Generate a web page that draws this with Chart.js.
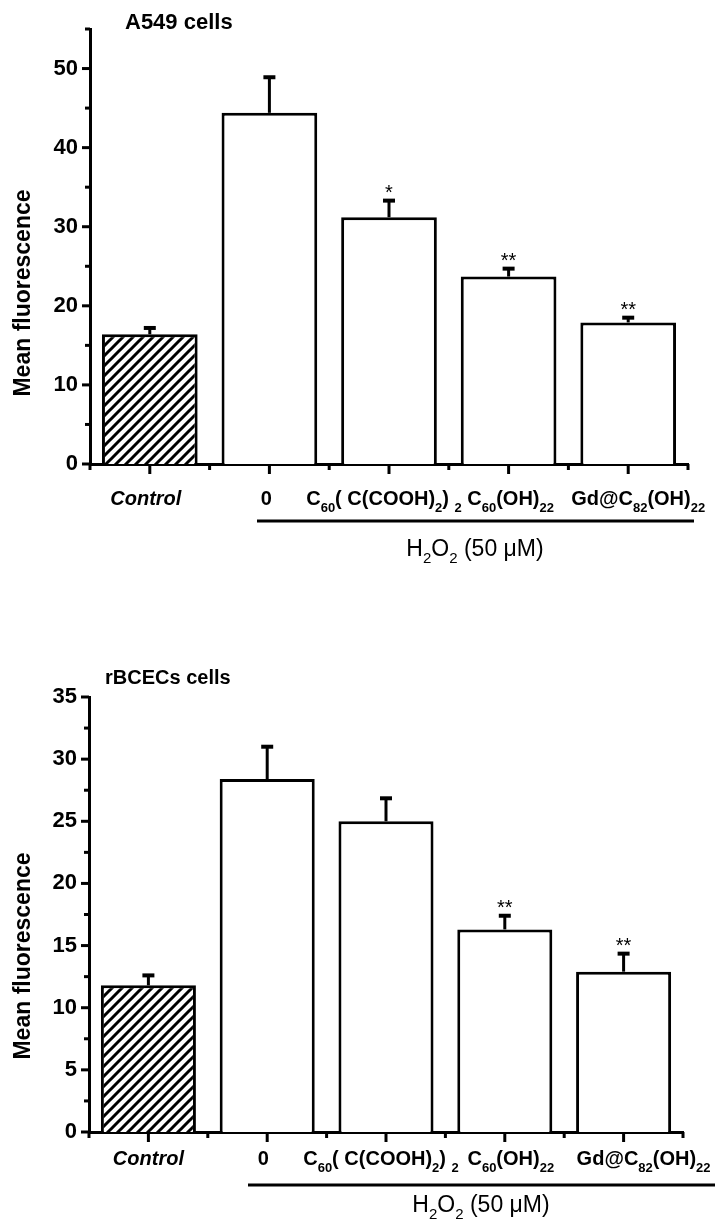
<!DOCTYPE html>
<html>
<head>
<meta charset="utf-8">
<script src="https://cdn.jsdelivr.net/npm/chart.js@4/dist/chart.umd.min.js"></script>
<style>
  body { margin: 0; background: #fff; }
  #wrap { position: relative; width: 724px; height: 1225px; }
  canvas { position: absolute; left: 0; }
</style>
</head>
<body>
<div id="wrap">
  <canvas id="topChart" width="724" height="600" style="top:0"></canvas>
  <canvas id="bottomChart" width="724" height="625" style="top:600px"></canvas>
</div>
<script>
'use strict';

/* Data */
const categories = ['Control', '0', 'C_{60}( C(COOH)_{2}) _{2}', 'C_{60}(OH)_{22}', 'Gd@C_{82}(OH)_{22}'];
const groupLabel = 'H_{2}O_{2} (50 \u03bcM)';

const a549Values = [16.4, 44.4, 31.2, 23.7, 17.9];
const a549Errors = [0.8, 4.5, 2.1, 1.0, 0.6];
const a549Stars = ['', '', '*', '**', '**'];
const a549Ticks = [0, 5, 10, 15, 20, 25, 30, 35, 40, 45, 50, 55];
const a549Labels = [0, 10, 20, 30, 40, 50];

const rbcecValues = [11.8, 28.4, 25.0, 16.3, 12.9];
const rbcecErrors = [0.8, 2.6, 1.85, 1.1, 1.45];
const rbcecStars = ['', '', '', '**', '**'];
const rbcecTicks = [0, 2.5, 5, 7.5, 10, 12.5, 15, 17.5, 20, 22.5, 25, 27.5, 30, 32.5, 35];
const rbcecLabels = [0, 5, 10, 15, 20, 25, 30, 35];

const FONT = "'Liberation Sans', Arial, sans-serif";

/* Hatch fill for the control bar */
function hatchPattern() {
  const c = document.createElement('canvas');
  c.width = 10;
  c.height = 10;
  const g = c.getContext('2d');
  g.fillStyle = '#fff';
  g.fillRect(0, 0, 10, 10);
  g.strokeStyle = '#000';
  g.lineWidth = 3;
  g.beginPath();
  g.moveTo(-2, 12); g.lineTo(12, -2);
  g.moveTo(-7, 7); g.lineTo(7, -7);
  g.moveTo(3, 17); g.lineTo(17, 3);
  g.stroke();
  return g.createPattern(c, 'repeat');
}

/* text with _{sub} parts */
function drawRich(ctx, text, cx, baseline, size, subSize, style) {
  const parts = text.split(/_\{([^}]*)\}/);
  const fonts = parts.map((p, k) => style + ' ' + (k % 2 ? subSize : size) + 'px ' + FONT);
  let w = 0;
  parts.forEach((p, k) => { ctx.font = fonts[k]; w += ctx.measureText(p).width; });
  let x = cx - w / 2;
  ctx.textAlign = 'left';
  ctx.textBaseline = 'alphabetic';
  parts.forEach((p, k) => {
    ctx.font = fonts[k];
    ctx.fillText(p, x, baseline + (k % 2 ? 7 : 0));
    x += ctx.measureText(p).width;
  });
}

function decorPlugin(cfg) {
  return {
    id: 'decor',
    afterDraw(chart) {
      const ctx = chart.ctx;
      const xs = chart.scales.x;
      const ys = chart.scales.y;
      const area = chart.chartArea;
      const meta = chart.getDatasetMeta(0);
      ctx.save();
      ctx.fillStyle = '#000';
      ctx.strokeStyle = '#000';
      ctx.lineWidth = 3;
      ctx.lineCap = 'butt';

      // y ticks
      cfg.ticks.forEach(v => {
        const y = ys.getPixelForValue(v);
        const len = cfg.labels.includes(v) ? 8 : 5;
        ctx.beginPath();
        ctx.moveTo(area.left - len, y);
        ctx.lineTo(area.left, y);
        ctx.stroke();
      });

      // x ticks: long at categories, short at boundaries
      for (let i = 0; i <= categories.length; i++) {
        const xb = xs.getPixelForValue(i - 0.5);
        ctx.beginPath();
        ctx.moveTo(xb, area.bottom);
        ctx.lineTo(xb, area.bottom + 6);
        ctx.stroke();
        if (i < categories.length) {
          const xc = xs.getPixelForValue(i);
          ctx.beginPath();
          ctx.moveTo(xc, area.bottom);
          ctx.lineTo(xc, area.bottom + 10);
          ctx.stroke();
        }
      }

      // error bars and stars
      cfg.values.forEach((v, i) => {
        const x = meta.data[i].x;
        const yBar = ys.getPixelForValue(v);
        const yTop = ys.getPixelForValue(v + cfg.errors[i]);
        ctx.lineWidth = 3;
        ctx.beginPath();
        ctx.moveTo(x, yBar);
        ctx.lineTo(x, yTop);
        ctx.stroke();
        ctx.lineWidth = 4;
        ctx.beginPath();
        ctx.moveTo(x - 6, yTop);
        ctx.lineTo(x + 6, yTop);
        ctx.stroke();
        if (cfg.stars[i]) {
          ctx.font = '20px ' + FONT;
          ctx.textAlign = 'center';
          ctx.textBaseline = 'alphabetic';
          ctx.fillText(cfg.stars[i], x, yTop - 2);
        }
      });

      // category labels
      categories.forEach((c, i) => {
        const x = xs.getPixelForValue(i) + cfg.labelShift[i];
        drawRich(ctx, c, x, cfg.labelBase, 20, 13, i === 0 ? 'italic bold' : 'bold');
      });

      // treatment group line and label
      ctx.lineWidth = 3;
      ctx.beginPath();
      ctx.moveTo(cfg.line[0], cfg.line[2]);
      ctx.lineTo(cfg.line[1], cfg.line[2]);
      ctx.stroke();
      drawRich(ctx, groupLabel, cfg.group[0], cfg.group[1], 23, 15, 'normal');

      // panel title
      ctx.font = 'bold ' + cfg.title[3] + 'px ' + FONT;
      ctx.textAlign = 'left';
      ctx.fillText(cfg.title[0], cfg.title[1], cfg.title[2]);

      // y axis title
      ctx.save();
      ctx.translate(24, cfg.yTitleY);
      ctx.rotate(-Math.PI / 2);
      ctx.font = 'bold 23px ' + FONT;
      ctx.textAlign = 'center';
      ctx.textBaseline = 'middle';
      ctx.fillText('Mean fluorescence', 0, 0);
      ctx.restore();

      ctx.restore();
    }
  };
}

function buildChart(id, cfg) {
  const canvas = document.getElementById(id);
  const pattern = hatchPattern();
  return new Chart(canvas, {
    type: 'bar',
    data: {
      labels: categories,
      datasets: [{
        data: cfg.values,
        backgroundColor: cfg.values.map((v, i) => i === 0 ? pattern : '#fff'),
        borderColor: '#000',
        borderWidth: 3,
        barPercentage: 0.8,
        categoryPercentage: 1
      }]
    },
    options: {
      responsive: false,
      animation: false,
      devicePixelRatio: 1,
      layout: { padding: { left: 0, top: cfg.area.top, right: canvas.width - cfg.area.right, bottom: 0 } },
      plugins: { legend: { display: false }, tooltip: { enabled: false } },
      scales: {
        x: {
          grid: { display: false, drawTicks: false },
          border: { display: true, color: '#000', width: 3 },
          ticks: { display: false },
          afterFit: s => { s.height = canvas.height - cfg.area.bottom; }
        },
        y: {
          min: 0,
          max: cfg.max,
          afterBuildTicks: s => { s.ticks = cfg.ticks.map(v => ({ value: v })); },
          grid: { display: false, drawTicks: false },
          border: { display: true, color: '#000', width: 3 },
          ticks: {
            color: '#000',
            padding: 12,
            font: { family: FONT, size: 22, weight: 'bold' },
            callback: v => cfg.labels.includes(v) ? String(v) : ''
          },
          afterFit: s => { s.width = cfg.area.left; }
        }
      }
    },
    plugins: [decorPlugin(cfg)]
  });
}

buildChart('topChart', {
  values: a549Values, errors: a549Errors, stars: a549Stars,
  ticks: a549Ticks, labels: a549Labels, max: 55,
  area: { left: 90, right: 688, top: 29, bottom: 464 },
  labelBase: 505,
  labelShift: [-4, -3, -5, 2, 10],
  line: [257, 694, 521],
  group: [475, 556],
  title: ['A549 cells', 125, 29, 22],
  yTitleY: 293
});

buildChart('bottomChart', {
  values: rbcecValues, errors: rbcecErrors, stars: rbcecStars,
  ticks: rbcecTicks, labels: rbcecLabels, max: 35,
  area: { left: 89, right: 683, top: 97, bottom: 532 },
  labelBase: 565,
  labelShift: [0, -4, -5, 6, 20],
  line: [248, 715, 585],
  group: [481, 612],
  title: ['rBCECs cells', 105, 84, 20],
  yTitleY: 356
});
</script>
</body>
</html>
